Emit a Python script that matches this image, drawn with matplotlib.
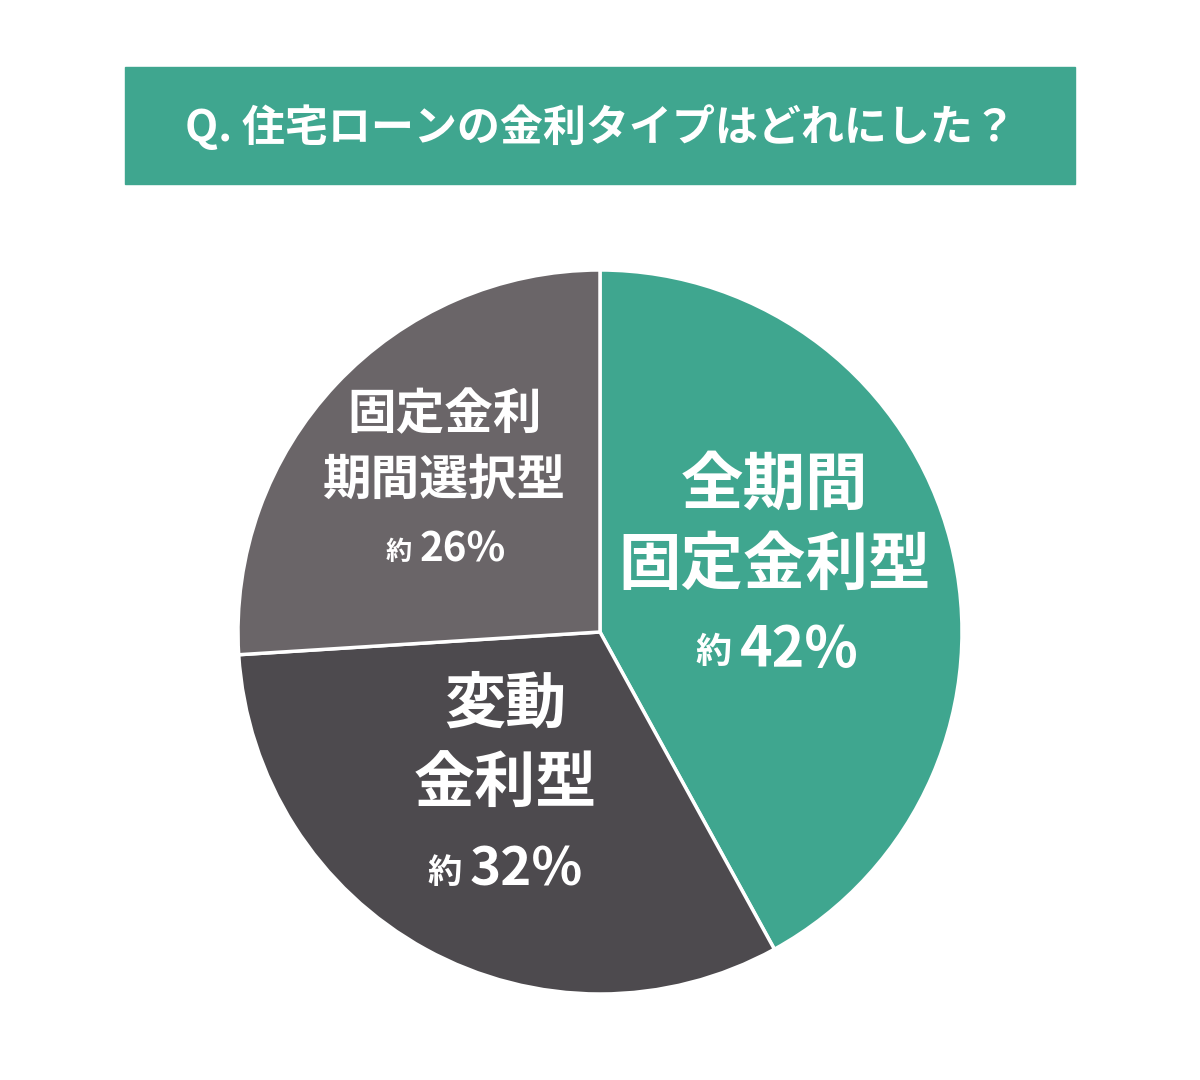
import matplotlib.pyplot as plt
from matplotlib.patches import Rectangle

plt.rcParams['font.family'] = ['Noto Sans CJK JP', 'DejaVu Sans']

title = 'Q. 住宅ローンの金利タイプはどれにした？'
shares = [42, 32, 26]
names = [['全期間', '固定金利型'], ['変動', '金利型'], ['固定金利', '期間選択型']]
colors = ['#3fa68f', '#4d4a4e', '#6a6568']

W, H = 1200, 1080
fig = plt.figure(figsize=(W / 100, H / 100), dpi=100)
fig.patch.set_facecolor('white')

def fx(x):
    return x / W

def fy(y):
    return 1 - y / H

# title box
fig.patches.append(Rectangle((fx(125), fy(184)), fx(950), 117 / H,
                             transform=fig.transFigure, color='#3fa68f'))
fig.text(fx(600), fy(127), title, color='white', fontsize=31,
         fontweight='bold', ha='center', va='center')

# pie
cx, cy, r = 600, 632, 362
ax = fig.add_axes([fx(cx - r), fy(cy + r), 2 * r / W, 2 * r / H])
ax.pie(shares, colors=colors, startangle=90, counterclock=False,
       wedgeprops=dict(edgecolor='white', linewidth=2.5))
ax.set_xlim(-1, 1)
ax.set_ylim(-1, 1)
ax.set_aspect('auto')

# labels: (x, line y's, name size, pct size, pct x)
spots = [(775, [485, 565, 650], 45, 40, 740),
         (505, [705, 785, 870], 44, 38, 470),
         (445, [415, 480, 550], 35, 29, 420)]
for (x, ys, s1, s2, px), nm, p in zip(spots, names, shares):
    for line, y in zip(nm, ys):
        fig.text(fx(x), fy(y), line, color='white', fontsize=s1,
                 fontweight='bold', ha='center', va='center')
    fig.text(fx(px - 8), fy(ys[2] + 3), '約', color='white', fontsize=s2 * 0.65,
             ha='right', va='center', fontweight='bold')
    fig.text(fx(px), fy(ys[2]), '%d%%' % p, color='white', fontsize=s2,
             ha='left', va='center', fontweight='bold')

fig.savefig('out.png', dpi=100)
